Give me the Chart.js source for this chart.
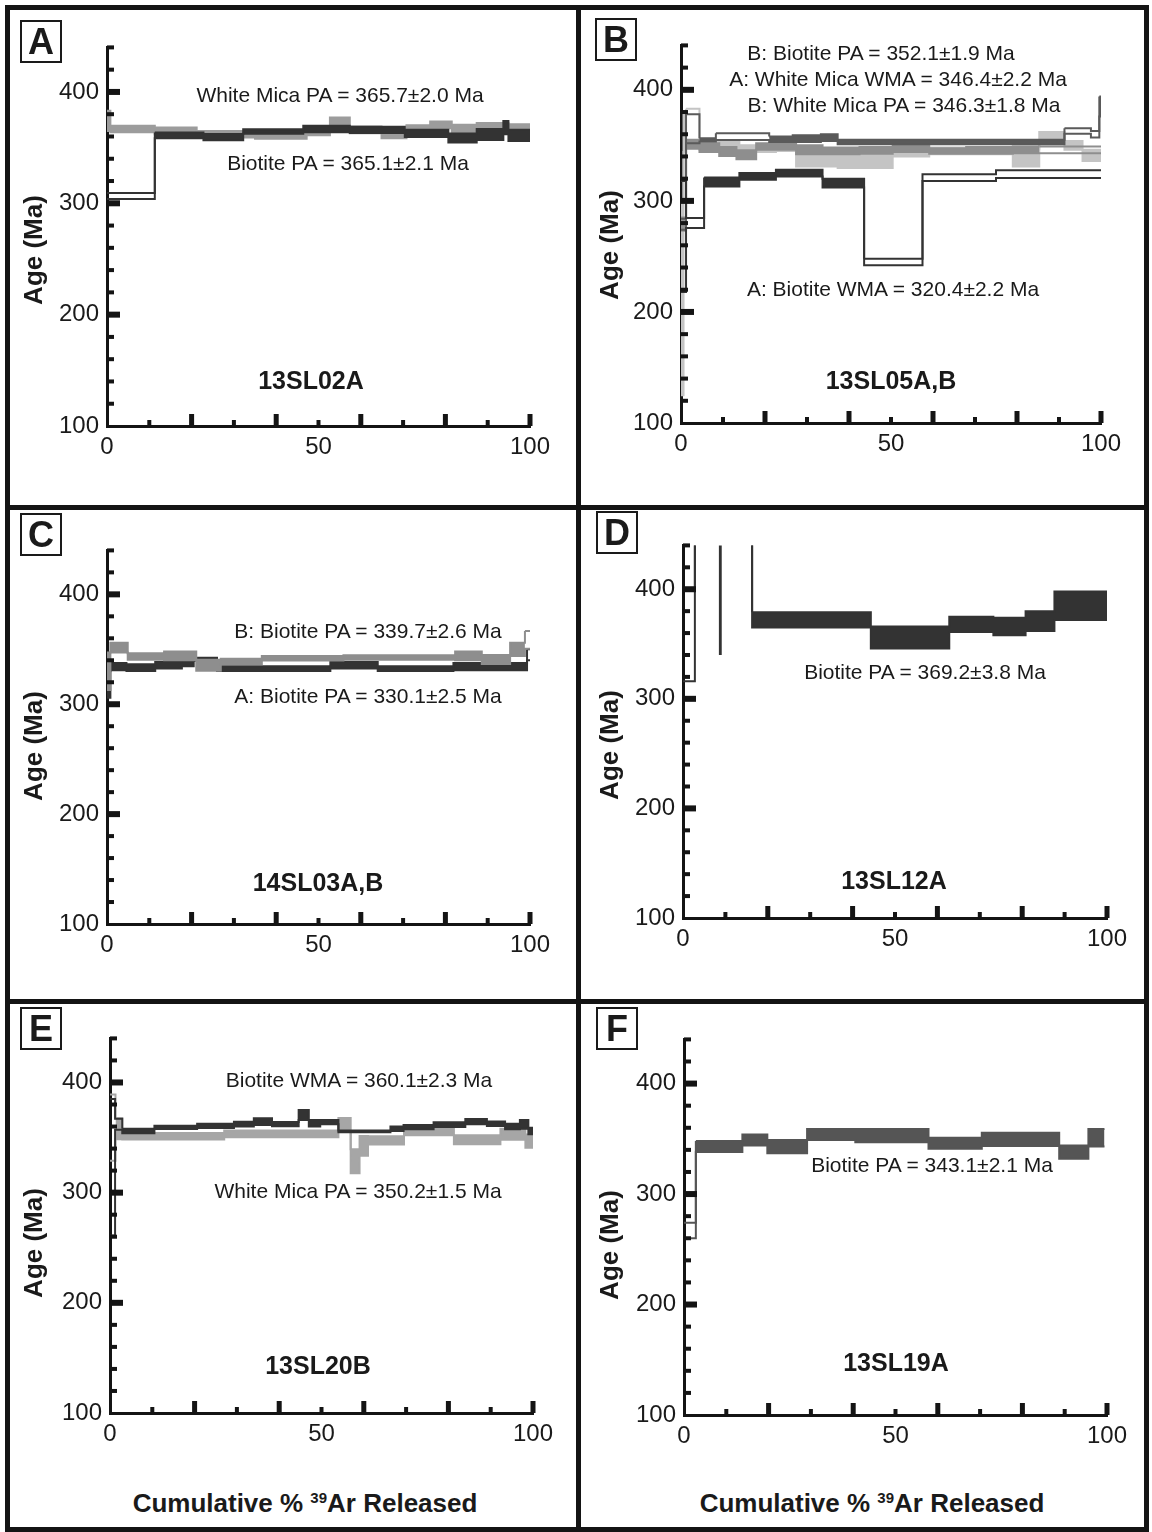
<!DOCTYPE html>
<html>
<head>
<meta charset="utf-8">
<title>Age spectra</title>
<script src="https://cdn.jsdelivr.net/npm/chart.js@4.4.1/dist/chart.umd.min.js"></script>
<style>
  html, body { margin: 0; padding: 0; background: #fff; }
  #page { position: relative; width: 1152px; height: 1532px; overflow: hidden;
          font-family: "Liberation Sans", Arial, Helvetica, sans-serif; color: #1a1a1a; }
  canvas { position: absolute; }
  .rule { position: absolute; background: #141414; }
  .letter { position: absolute; width: 38px; height: 39px; border: 2px solid #1a1a1a;
            font-weight: bold; font-size: 36px; line-height: 40px; text-align: center; }
  .t { position: absolute; white-space: nowrap; transform: translate(-50%, -50%); z-index: 2; }
  .note { font-size: 21px; }
  .sample { font-size: 25px; font-weight: bold; }
  .ylab { font-size: 26px; font-weight: bold; transform: translate(-50%, -50%) rotate(-90deg); }
  .xlab { font-size: 26px; font-weight: bold; }
  .xlab sup { font-size: 15px; vertical-align: 9px; }
</style>
</head>
<body>
<div id="page">
  <!-- frame and dividers -->
  <div class="rule" style="left:5px;top:5px;width:1142px;height:5px"></div>
  <div class="rule" style="left:5px;top:1527px;width:1142px;height:5px"></div>
  <div class="rule" style="left:5px;top:5px;width:5px;height:1527px"></div>
  <div class="rule" style="left:1144px;top:5px;width:5px;height:1527px"></div>
  <div class="rule" style="left:576px;top:5px;width:5px;height:1527px"></div>
  <div class="rule" style="left:5px;top:505px;width:1142px;height:5px"></div>
  <div class="rule" style="left:5px;top:999px;width:1142px;height:5px"></div>

  <div class="letter" style="left:20px;top:20px">A</div>
  <div class="letter" style="left:595px;top:18px">B</div>
  <div class="letter" style="left:20px;top:513px">C</div>
  <div class="letter" style="left:596px;top:511px">D</div>
  <div class="letter" style="left:20px;top:1007px">E</div>
  <div class="letter" style="left:596px;top:1007px">F</div>

  <div class="t ylab" style="left:33px;top:250px">Age (Ma)</div>
  <div class="t ylab" style="left:609px;top:245px">Age (Ma)</div>
  <div class="t ylab" style="left:33px;top:746px">Age (Ma)</div>
  <div class="t ylab" style="left:609px;top:745px">Age (Ma)</div>
  <div class="t ylab" style="left:33px;top:1243px">Age (Ma)</div>
  <div class="t ylab" style="left:609px;top:1245px">Age (Ma)</div>

  <div class="t sample" style="left:311px;top:380px">13SL02A</div>
  <div class="t sample" style="left:891px;top:380px">13SL05A,B</div>
  <div class="t sample" style="left:318px;top:882px">14SL03A,B</div>
  <div class="t sample" style="left:894px;top:880px">13SL12A</div>
  <div class="t sample" style="left:318px;top:1365px">13SL20B</div>
  <div class="t sample" style="left:896px;top:1362px">13SL19A</div>

  <div class="t note" style="left:340px;top:95px">White Mica PA = 365.7±2.0 Ma</div>
  <div class="t note" style="left:348px;top:163px">Biotite PA = 365.1±2.1 Ma</div>
  <div class="t note" style="left:881px;top:53px">B: Biotite PA = 352.1±1.9 Ma</div>
  <div class="t note" style="left:898px;top:79px">A: White Mica WMA = 346.4±2.2 Ma</div>
  <div class="t note" style="left:904px;top:105px">B: White Mica PA = 346.3±1.8 Ma</div>
  <div class="t note" style="left:893px;top:289px">A: Biotite WMA = 320.4±2.2 Ma</div>
  <div class="t note" style="left:368px;top:631px">B: Biotite PA = 339.7±2.6 Ma</div>
  <div class="t note" style="left:368px;top:696px">A: Biotite PA = 330.1±2.5 Ma</div>
  <div class="t note" style="left:925px;top:672px">Biotite PA = 369.2±3.8 Ma</div>
  <div class="t note" style="left:359px;top:1080px">Biotite WMA = 360.1±2.3 Ma</div>
  <div class="t note" style="left:358px;top:1191px">White Mica PA = 350.2±1.5 Ma</div>
  <div class="t note" style="left:932px;top:1165px">Biotite PA = 343.1±2.1 Ma</div>

  <div class="t xlab" style="left:305px;top:1503px">Cumulative % <sup>39</sup>Ar Released</div>
  <div class="t xlab" style="left:872px;top:1503px">Cumulative % <sup>39</sup>Ar Released</div>
</div>

<script>
// ---- axis ticks ----
const xTickValues = [10, 20, 30, 40, 50, 60, 70, 80, 90, 100];
const xMajorTicks = [20, 40, 60, 80, 100];
const xLabelValues = [0, 50, 100];
const yTickValues = [120, 140, 160, 180, 200, 220, 240, 260, 280, 300, 320, 340, 360, 380, 400, 420, 440];
const yMajorTicks = [200, 300, 400];
const yLabelValues = [100, 200, 300, 400];

// ---- A: 13SL02A ----
const aWmEdges = [0, 0.8, 11.3, 21.2, 35, 47.2, 52.7, 57.4, 64.9, 70.8, 76.4, 81.5, 87.4, 94.9, 100];
const aWmAges  = [374, 366.7, 365, 362, 361, 364, 373, 366, 362, 367.5, 370.5, 366, 369, 368];
const aWmErrs  = [9, 3, 3, 3, 3, 3, 4, 3, 3.5, 2.5, 3, 4.5, 3, 3];
const aWmOpen  = [];

const aBtEdges = [0, 11.3, 22.8, 32.2, 46.4, 57.4, 70.4, 80.7, 87.4, 93.7, 94.9, 100];
const aBtAges  = [306.5, 361, 359.5, 364.5, 366.7, 366, 362.8, 358.6, 361.8, 368, 361];
const aBtErrs  = [2.7, 2.5, 2.8, 2, 3, 2.8, 3.3, 4, 5, 6, 5];
const aBtOpen  = [0];

// ---- B: 13SL05A,B ----
const bWmAEdges = [0, 0.6, 1.2, 4.4, 8.3, 13.9, 22.6, 27.4, 37.3, 50.4, 59.1, 79, 85.3, 91.3, 95.6, 100];
const bWmAAges  = [213, 362, 368, 349, 350, 347, 348, 337, 336, 343, 345, 339, 357.5, 350, 341];
const bWmAErrs  = [88, 18, 15, 3, 3, 3, 3, 6, 6.5, 3, 3, 8, 4.5, 4, 5];
const bWmAOpen  = [2];

const bWmBEdges = [0, 1.2, 4.4, 9.1, 13.2, 17.9, 27.4, 33.7, 42.5, 50.4, 59.1, 67.9, 79, 85.3, 100];
const bWmBAges  = [279, 351, 348, 344.5, 341.5, 349, 346, 345, 345.5, 347, 345, 345.5, 346, 346];
const bWmBErrs  = [6, 4, 4, 4, 4, 3, 4, 3, 3, 3, 2.5, 3, 3, 3];
const bWmBOpen  = [13];

const bBtBEdges = [0, 1.2, 4.4, 8.3, 13.9, 21, 26.6, 33.3, 37.3, 91.3, 97.6, 99.6, 100];
const bBtBAges  = [279, 365, 355, 357.8, 357.8, 355.5, 356, 357, 353, 363, 360, 385];
const bBtBErrs  = [5, 13, 1.5, 3, 3, 2.5, 3, 3, 2, 2.5, 3, 9];
const bBtBOpen  = [0, 1, 3, 4, 9, 10];

const bBtAEdges = [0, 1.2, 5.5, 13.9, 22.6, 33.7, 43.6, 57.5, 75, 100];
const bBtAAges  = [268, 280, 317, 322, 325, 316, 245, 321, 324];
const bBtAErrs  = [50, 4.5, 4, 3, 3, 4, 3, 3, 3.5];
const bBtAOpen  = [0, 1, 6, 7, 8];

// ---- C: 14SL03A,B ----
const cBtBEdges = [0, 0.8, 4.9, 13.5, 21.1, 26.9, 36.6, 55.9, 82.3, 88.6, 95.3, 98.8, 100];
const cBtBAges  = [330, 351.5, 343.5, 344, 335.4, 339, 341.8, 342.5, 344, 340.7, 350, 358.6];
const cBtBErrs  = [17, 4.5, 3, 4, 5, 2.5, 2, 2, 4, 4, 6, 8];
const cBtBOpen  = [11];

const cBtAEdges = [0, 0.8, 4.6, 11.4, 17.7, 20.5, 26, 52.8, 64, 81.9, 99.3, 100];
const cBtAAges  = [318, 334.3, 333.3, 335.5, 337.5, 340.8, 332.4, 335.5, 332.4, 334.3, 345];
const cBtAErrs  = [12, 3.3, 3, 3, 3, 1.5, 2.2, 3, 2.2, 3.3, 5];
const cBtAOpen  = [10];

// ---- D: 13SL12A ----
const dBtEdges = [0, 2.8, 8.7, 8.9, 16.3, 44.3, 62.8, 73.2, 80.8, 87.6, 100];
const dBtAges  = [358, 700, 500, 700, 372, 356, 368, 366, 371, 385];
const dBtErrs  = [42, 50, 159, 50, 7, 10, 7, 8, 9, 13];
const dBtOpen  = [0, 1, 2, 3];

// ---- E: 13SL20B ----
const eBtEdges = [0, 1.2, 2.9, 10.5, 20.6, 29.3, 34, 38.3, 44.6, 47, 49.7, 54, 66.3, 69.4, 76.5, 84, 89.1, 93.4, 96.9, 98.9, 100];
const eBtAges  = [323, 362, 356, 359.2, 360.6, 362.2, 364.5, 362.2, 370.5, 363, 364, 355.6, 358, 359.5, 361.7, 364.5, 362.5, 360, 362, 356];
const eBtErrs  = [62, 5, 2, 1.5, 2, 2.2, 3, 2, 4.5, 3, 2, 0.8, 2, 2, 2.2, 2.4, 2, 2.5, 4, 3];
const eBtOpen  = [0, 1];

const eWmEdges = [0, 1.3, 2.9, 27, 54, 56.9, 59, 61, 69.5, 81.3, 92.3, 98.2, 100];
const eWmAges  = [359, 358, 351.2, 353.3, 361.8, 328.5, 342.4, 347.5, 355.3, 348, 353, 346.8];
const eWmErrs  = [30, 9.5, 3, 3, 6, 11, 9, 3.7, 3.3, 4, 5, 6];
const eWmOpen  = [0];

// ---- F: 13SL19A ----
const fBtEdges = [0, 2.8, 13.8, 19.7, 29.1, 40.5, 57.8, 70.4, 88.7, 95.6, 99.4];
const fBtAges  = [267, 343, 349, 343, 354, 353, 346, 349.5, 338, 351];
const fBtErrs  = [7, 5, 5, 6, 5, 6, 5, 6, 6, 8];
const fBtOpen  = [0];

// one age spectrum = lower + upper stepped line, filled between (open steps left empty)
function spectrum(name, edges, ages, errs, open, color) {
  const n = ages.length;
  const lower = ages.map((a, i) => ({ x: edges[i], y: a - errs[i] }));
  const upper = ages.map((a, i) => ({ x: edges[i], y: a + errs[i] }));
  lower.push({ x: edges[n], y: ages[n - 1] - errs[n - 1] });
  upper.push({ x: edges[n], y: ages[n - 1] + errs[n - 1] });
  const common = { borderColor: color, borderWidth: 2, pointRadius: 0, stepped: true, borderJoinStyle: 'miter' };
  return [
    { label: name + ' low', data: lower, fill: false, ...common },
    { label: name + ' high', data: upper, fill: '-1', backgroundColor: color, ...common,
      segment: { backgroundColor: c => open.includes(c.p0DataIndex) ? 'rgba(255,255,255,0)' : color } }
  ];
}

const Y_AXIS_W = 70, X_AXIS_H = 40, PAD_TOP = 20, PAD_RIGHT = 40;

const innerTicks = {
  id: 'innerTicks',
  afterDatasetsDraw(chart) {
    const { ctx, chartArea, scales: { x, y } } = chart;
    ctx.save();
    ctx.fillStyle = '#141414';
    yTickValues.forEach(v => {
      const py = y.getPixelForValue(v);
      const major = yMajorTicks.includes(v);
      const len = major ? 13 : 7, th = major ? 6 : 4;
      ctx.fillRect(chartArea.left, py - th / 2, len, th);
    });
    xTickValues.forEach(v => {
      const px = x.getPixelForValue(v);
      const major = xMajorTicks.includes(v);
      const len = major ? 12 : 6, th = major ? 5 : 4;
      ctx.fillRect(px - th / 2, chartArea.bottom - len, th, len);
    });
    ctx.restore();
  }
};

const tickFont = { family: '"Liberation Sans", Arial, sans-serif', size: 24 };

const panels = [
  { x0: 107, x1: 530, yTop: 45, yBottom: 426,
    sets: [spectrum('Biotite', aBtEdges, aBtAges, aBtErrs, aBtOpen, '#333333'),
           spectrum('White Mica', aWmEdges, aWmAges, aWmErrs, aWmOpen, '#9c9c9c')] },
  { x0: 681, x1: 1101, yTop: 43, yBottom: 423,
    sets: [spectrum('A: Biotite', bBtAEdges, bBtAAges, bBtAErrs, bBtAOpen, '#333333'),
           spectrum('B: Biotite', bBtBEdges, bBtBAges, bBtBErrs, bBtBOpen, '#5a5a5a'),
           spectrum('B: White Mica', bWmBEdges, bWmBAges, bWmBErrs, bWmBOpen, '#8e8e8e'),
           spectrum('A: White Mica', bWmAEdges, bWmAAges, bWmAErrs, bWmAOpen, '#c4c4c4')] },
  { x0: 107, x1: 530, yTop: 548, yBottom: 924,
    sets: [spectrum('B: Biotite', cBtBEdges, cBtBAges, cBtBErrs, cBtBOpen, '#8e8e8e'),
           spectrum('A: Biotite', cBtAEdges, cBtAAges, cBtAErrs, cBtAOpen, '#333333')] },
  { x0: 683, x1: 1107, yTop: 543, yBottom: 918,
    sets: [spectrum('Biotite', dBtEdges, dBtAges, dBtErrs, dBtOpen, '#333333')] },
  { x0: 110, x1: 533, yTop: 1036, yBottom: 1413,
    sets: [spectrum('Biotite', eBtEdges, eBtAges, eBtErrs, eBtOpen, '#333333'),
           spectrum('White Mica', eWmEdges, eWmAges, eWmErrs, eWmOpen, '#a6a6a6')] },
  { x0: 684, x1: 1107, yTop: 1037, yBottom: 1415,
    sets: [spectrum('Biotite', fBtEdges, fBtAges, fBtErrs, fBtOpen, '#555555')] }
];

const page = document.getElementById('page');

panels.forEach(p => {
  const canvas = document.createElement('canvas');
  const left = p.x0 - Y_AXIS_W, top = p.yTop - PAD_TOP;
  const w = p.x1 + PAD_RIGHT - left, h = p.yBottom + X_AXIS_H - top;
  canvas.width = w; canvas.height = h;
  canvas.style.left = left + 'px'; canvas.style.top = top + 'px';
  canvas.style.width = w + 'px'; canvas.style.height = h + 'px';
  page.insertBefore(canvas, page.firstChild);

  new Chart(canvas, {
    type: 'line',
    data: { datasets: p.sets.flat() },
    options: {
      responsive: false,
      animation: false,
      layout: { padding: { top: PAD_TOP, right: PAD_RIGHT, left: 0, bottom: 0 } },
      plugins: { legend: { display: false }, tooltip: { enabled: false } },
      scales: {
        x: {
          type: 'linear', min: 0, max: 100,
          grid: { display: false, drawTicks: false },
          border: { display: true, color: '#141414', width: 3 },
          ticks: { stepSize: 10, autoSkip: false, maxRotation: 0, padding: 7, color: '#1a1a1a', font: tickFont,
                   callback: v => xLabelValues.includes(v) ? String(v) : '' },
          afterFit: s => { s.height = X_AXIS_H; }
        },
        y: {
          type: 'linear', min: 100, max: 440,
          grid: { display: false, drawTicks: false },
          border: { display: true, color: '#141414', width: 3 },
          ticks: { stepSize: 20, autoSkip: false, padding: 8, color: '#1a1a1a', font: tickFont,
                   callback: v => yLabelValues.includes(v) ? String(v) : '' },
          afterFit: s => { s.width = Y_AXIS_W; }
        }
      }
    },
    plugins: [innerTicks]
  });
});
</script>
</body>
</html>
